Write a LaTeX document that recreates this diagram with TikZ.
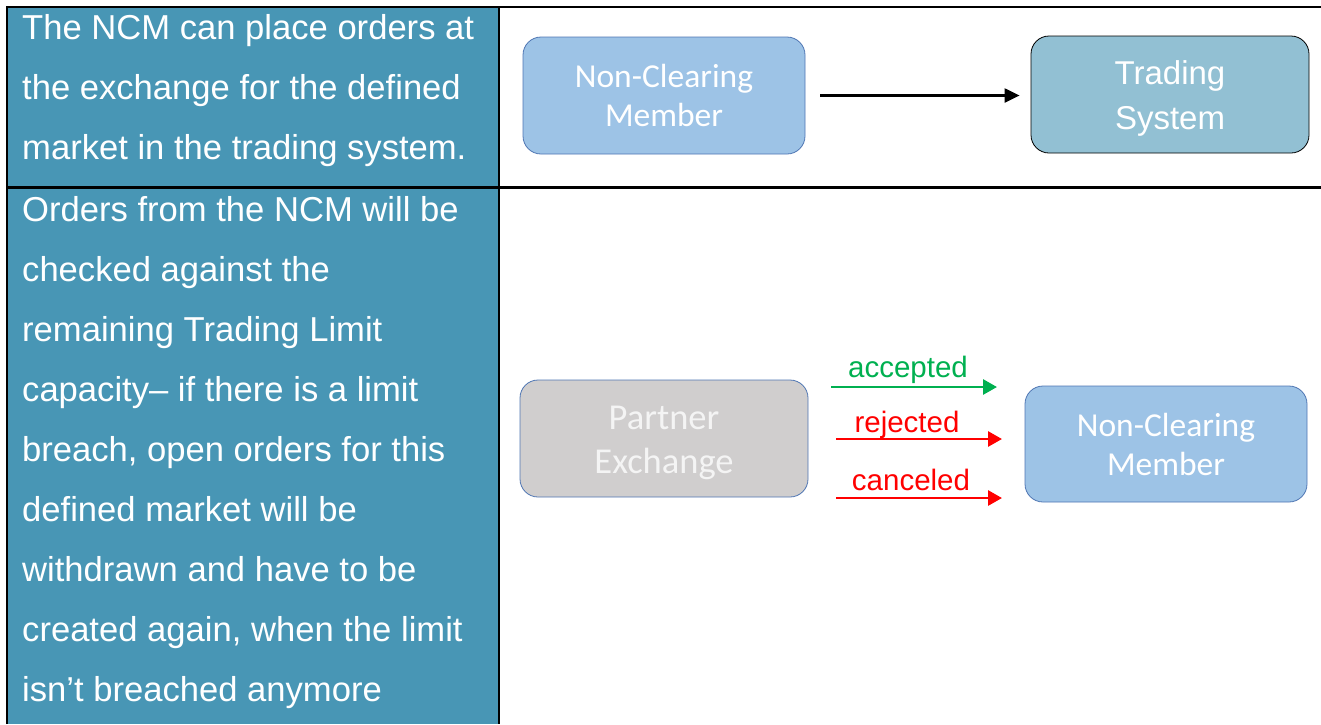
\documentclass[tikz,border=0pt]{standalone}
\usepackage{fontspec}
\setmainfont{Liberation Sans}
\newfontfamily\boxfont{Carlito}
\usetikzlibrary{arrows.meta,positioning}

\definecolor{cellblue}{HTML}{4896B5}
\definecolor{ncmfill}{HTML}{9DC3E6}
\definecolor{ncmline}{HTML}{4F76B3}
\definecolor{tsfill}{HTML}{92C0D3}
\definecolor{pexfill}{HTML}{D0CECE}
\definecolor{pextext}{HTML}{F4F4F4}
\definecolor{okgreen}{HTML}{00B050}
\definecolor{badred}{HTML}{FF0000}

% extra head room on a first line, pushes the lines down a bit
\newcommand\pushdown[1]{\rule{0pt}{#1}}

\tikzset{
  celltext/.style={anchor=base west, inner sep=0pt, align=left, text=white,
    font=\fontsize{34.6}{60}\selectfont},
  blk/.style={rounded corners=18pt, minimum height=117pt, align=center,
    inner sep=0pt, line width=0.8pt, text=white},
  ncmbox/.style={blk, fill=ncmfill, draw=ncmline, minimum width=282pt,
    font=\boxfont\fontsize{33.5}{39}\selectfont},
  tsbox/.style={blk, fill=tsfill, draw=black, minimum width=278pt,
    font=\fontsize{33}{45}\selectfont},
  pexbox/.style={blk, fill=pexfill, draw=ncmline, minimum width=288pt,
    text=pextext, font=\boxfont\fontsize{36.5}{44}\selectfont},
  flow/.style={line width=2.8pt, -{Triangle[length=14pt,width=15pt]}},
  lbl/.style={inner sep=0pt, anchor=base, font=\fontsize{29.5}{30}\selectfont},
  rule/.style={line width=2.8pt, black}
}

\begin{document}
\begin{tikzpicture}[x=1pt, y=-1pt]
    \useasboundingbox (0,0) rectangle (1321,724);

    % left column
    \fill[cellblue] (7,7) rectangle (499,724);

    % table rules
    \draw[rule] (7,724) -- (7,7) -- (1321,7);
    \draw[rule] (7,187.5) -- (1321,187.5);
    \draw[rule] (499,7) -- (499,724);

    % cell texts (base = last line)
    \node[celltext] (txtA) at (22,159) {The NCM can place orders at\\the exchange for the defined\\market in the trading system.};
    \node[celltext] (txtB) at (22,701) {Orders from the NCM will be\\checked against the\\remaining Trading Limit\\capacity– if there is a limit\\breach, open orders for this\\defined market will be\\withdrawn and have to be\\created again, when the limit\\isn’t breached anymore};

    % top row
    \node[ncmbox] (ncmA) at (664,95.5) {Non-Clearing\\Member};
    \node[tsbox] (tsys) at (1170,94.5) {\pushdown{32pt}Trading\\System};
    \draw[line width=2.2pt, -{Triangle[length=15pt,width=14pt]}]
        ([xshift=15pt]ncmA.east) -- ([xshift=-11pt]ncmA.east -| tsys.west);

    % bottom row
    \node[pexbox] (pex) at (664,438.5) {\pushdown{32pt}Partner\\Exchange};
    \node[ncmbox, minimum height=116pt] (ncmB) at (1166,444) {Non-Clearing\\Member};

    % arrow ends
    \coordinate (accA) at (831,387);
    \coordinate (accB) at (997,387);
    \coordinate (rejA) at (836,439);
    \coordinate (rejB) at (1002,439);
    \coordinate (canA) at (836,498);
    \coordinate (canB) at (1002,498);

    % pex to ncm
    \draw[flow, okgreen] (accA) -- (accB)
        node[lbl, midway, yshift=10pt, xshift=-6pt, text=okgreen] (acc) {accepted};
    \draw[flow, badred] (rejA) -- (rejB)
        node[lbl, midway, yshift=7pt, xshift=-12pt, text=badred] (rej) {rejected};
    \draw[flow, badred] (canA) -- (canB)
        node[lbl, midway, yshift=8pt, xshift=-8pt, text=badred] (can) {canceled};
\end{tikzpicture}
\end{document}
